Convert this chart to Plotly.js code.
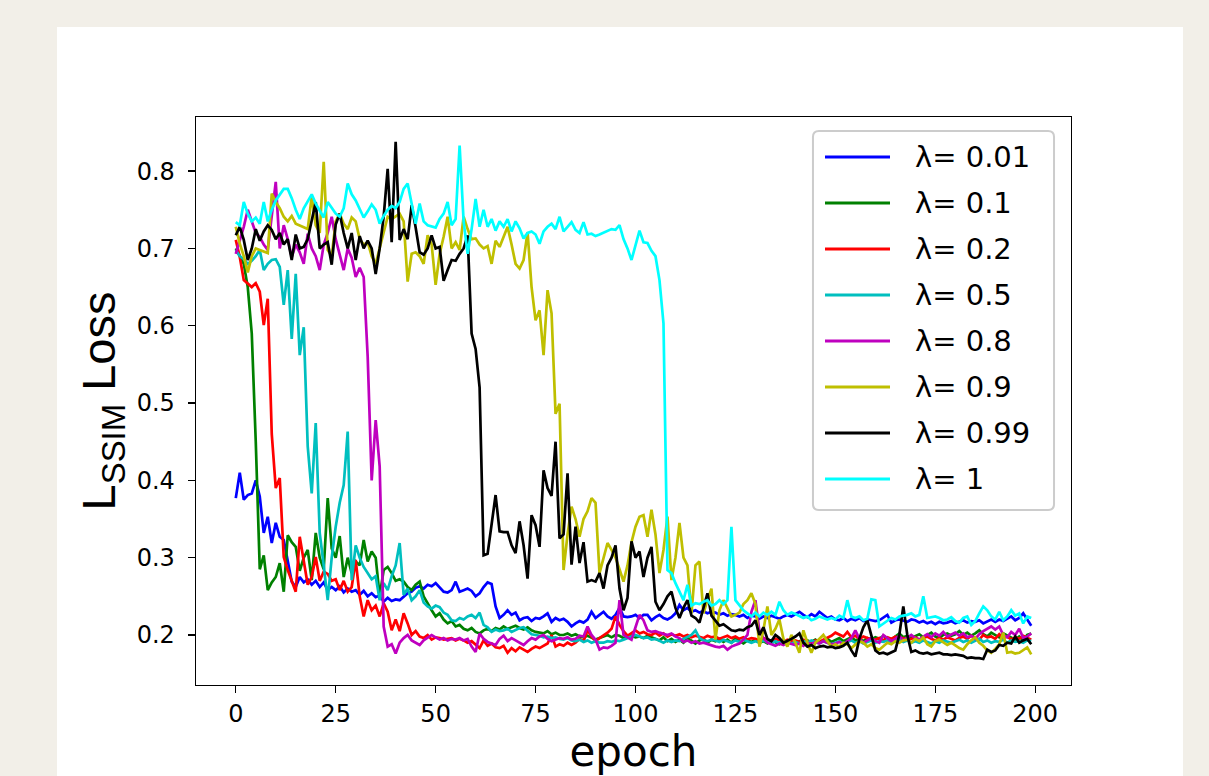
<!DOCTYPE html>
<html><head><meta charset="utf-8">
<script src="https://cdn.plot.ly/plotly-3.0.1.min.js"></script>
<style>
html,body{margin:0;padding:0;background:#f2efe8;width:1209px;height:776px;overflow:hidden;}
#card{position:absolute;left:57px;top:27px;width:1126px;height:749px;background:#ffffff;}
#chart{width:1126px;height:749px;}
</style></head><body><div id="card"><div id="chart"></div></div>
<script>
const labels = ["λ= 0.01","λ= 0.1","λ= 0.2","λ= 0.5","λ= 0.8","λ= 0.9","λ= 0.99","λ= 1"];
const colors = ["#0000ff","#008000","#ff0000","#00bfbf","#bf00bf","#bfbf00","#000000","#00ffff"];
const xTicks = [0,25,50,75,100,125,150,175,200];
const yTicks = [0.2,0.3,0.4,0.5,0.6,0.7,0.8];

const lam001 = [
.377,.410,.375,.381,.383,.400,.379,.332,.353,.319,
.345,.327,.323,.297,.269,.262,.275,.268,.272,.265,
.270,.262,.268,.258,.262,.258,.263,.255,.260,.256,
.258,.252,.257,.250,.254,.249,.251,.243,.248,.244,
.246,.245,.250,.254,.256,.261,.263,.260,.265,.263,
.267,.262,.256,.255,.258,.269,.256,.258,.260,.257,
.250,.254,.262,.268,.266,.237,.222,.226,.232,.226,
.229,.219,.222,.223,.218,.222,.221,.224,.228,.217,
.222,.219,.221,.217,.211,.215,.218,.216,.220,.230,
.222,.226,.230,.224,.221,.226,.235,.224,.223,.224,
.226,.222,.226,.226,.219,.223,.226,.222,.220,.223,
.228,.239,.232,.235,.230,.232,.229,.231,.228,.230,
.229,.226,.228,.225,.227,.226,.224,.226,.222,.225,
.224,.221,.224,.222,.225,.223,.221,.224,.226,.224,
.227,.230,.226,.223,.227,.224,.230,.226,.222,.224,
.220,.219,.222,.218,.221,.219,.222,.218,.220,.219,
.218,.219,.222,.226,.216,.219,.220,.218,.217,.220,
.219,.216,.218,.215,.217,.214,.217,.215,.216,.218,
.215,.217,.219,.216,.218,.217,.219,.215,.218,.220,
.217,.220,.218,.221,.224,.219,.222,.228,.220,.212];

const lam01 = [
.700,.690,.680,.650,.590,.450,.285,.303,.258,.268,
.275,.293,.256,.329,.320,.314,.283,.300,.310,.271,
.332,.300,.285,.377,.312,.300,.328,.275,.300,.280,
.295,.290,.323,.295,.308,.300,.250,.284,.288,.280,
.270,.272,.269,.262,.258,.265,.269,.250,.240,.232,
.224,.228,.220,.215,.218,.211,.213,.208,.206,.209,
.204,.202,.206,.208,.205,.209,.207,.211,.208,.210,
.212,.209,.207,.210,.206,.204,.203,.202,.205,.201,
.203,.200,.200,.202,.199,.201,.198,.197,.199,.196,
.194,.196,.198,.200,.197,.200,.199,.196,.198,.199,
.197,.198,.196,.199,.197,.195,.193,.197,.192,.195,
.191,.194,.190,.196,.192,.189,.193,.195,.190,.194,
.192,.195,.191,.194,.190,.196,.192,.189,.193,.191,
.194,.190,.192,.189,.193,.191,.188,.192,.190,.193,
.189,.192,.190,.193,.191,.194,.190,.192,.195,.191,
.193,.196,.192,.194,.197,.193,.195,.192,.196,.194,
.197,.195,.199,.196,.194,.198,.202,.197,.199,.196,
.198,.201,.197,.200,.203,.198,.196,.200,.202,.199,
.201,.205,.200,.203,.199,.202,.206,.201,.198,.203,
.200,.197,.202,.199,.196,.194,.198,.193,.200,.202];

const lam02 = [
.711,.689,.659,.654,.650,.655,.644,.601,.635,.460,
.390,.403,.301,.284,.270,.256,.327,.298,.265,.275,
.301,.270,.282,.279,.270,.272,.258,.270,.256,.262,
.297,.250,.224,.245,.232,.238,.224,.241,.230,.206,
.220,.205,.228,.215,.200,.205,.198,.196,.200,.194,
.197,.196,.194,.195,.196,.193,.195,.193,.190,.192,
.188,.183,.193,.186,.189,.184,.183,.186,.177,.183,
.179,.184,.181,.178,.182,.185,.183,.186,.189,.200,
.185,.188,.186,.190,.187,.190,.195,.192,.206,.198,
.192,.196,.199,.203,.208,.224,.213,.205,.199,.203,
.206,.202,.204,.201,.200,.203,.199,.202,.198,.201,
.199,.201,.198,.200,.197,.199,.198,.196,.199,.197,
.198,.195,.197,.199,.196,.198,.195,.197,.194,.196,
.195,.193,.196,.194,.192,.195,.193,.191,.194,.192,
.193,.191,.194,.192,.190,.193,.191,.194,.196,.199,
.203,.200,.198,.204,.197,.199,.195,.198,.196,.194,
.194,.196,.193,.197,.195,.198,.194,.196,.193,.195,
.197,.194,.196,.198,.195,.193,.196,.194,.197,.195,
.193,.196,.198,.195,.199,.196,.194,.200,.197,.198,
.195,.201,.196,.198,.194,.197,.195,.199,.196,.194];

const lam05 = [
.698,.690,.686,.680,.684,.690,.698,.672,.680,.685,
.686,.676,.627,.672,.583,.667,.562,.598,.444,.383,
.474,.332,.290,.245,.300,.340,.371,.394,.463,.271,
.316,.300,.288,.280,.272,.276,.245,.267,.258,.276,
.290,.319,.252,.260,.245,.250,.258,.242,.237,.234,
.238,.236,.229,.226,.219,.218,.222,.220,.224,.226,
.222,.229,.213,.210,.204,.207,.205,.206,.208,.204,
.207,.209,.210,.205,.201,.200,.199,.197,.198,.196,
.197,.195,.194,.196,.193,.192,.194,.191,.193,.190,
.192,.190,.190,.192,.191,.193,.192,.194,.196,.198,
.200,.198,.196,.197,.194,.195,.192,.190,.193,.191,
.193,.192,.195,.197,.200,.206,.196,.193,.192,.194,
.193,.191,.194,.192,.190,.193,.191,.194,.192,.190,
.192,.190,.193,.191,.189,.192,.190,.193,.191,.189,
.191,.189,.192,.190,.193,.191,.189,.192,.190,.188,
.190,.192,.189,.191,.193,.190,.192,.189,.191,.193,
.190,.192,.191,.193,.190,.192,.194,.191,.193,.190,
.192,.190,.193,.191,.189,.192,.190,.193,.191,.190,
.192,.194,.191,.193,.190,.192,.195,.191,.193,.190,
.192,.191,.194,.190,.193,.191,.192,.190,.193,.192];

const lam08 = [
.693,.710,.728,.750,.735,.720,.715,.705,.698,.740,
.786,.700,.730,.712,.689,.705,.695,.680,.719,.700,
.690,.672,.705,.720,.741,.712,.690,.672,.700,.688,
.663,.675,.663,.560,.400,.478,.418,.211,.185,.188,
.176,.190,.196,.200,.193,.190,.187,.193,.196,.200,
.197,.194,.196,.193,.195,.194,.196,.193,.195,.185,
.178,.202,.195,.191,.189,.187,.195,.199,.192,.196,
.193,.190,.187,.192,.196,.194,.198,.200,.195,.192,
.194,.196,.195,.197,.194,.195,.199,.198,.211,.200,
.194,.181,.184,.183,.186,.190,.245,.200,.197,.194,
.210,.226,.219,.206,.204,.205,.203,.201,.200,.202,
.198,.196,.191,.193,.190,.192,.189,.190,.188,.187,
.185,.184,.186,.181,.185,.187,.189,.194,.200,.230,
.245,.205,.196,.190,.188,.186,.189,.187,.190,.188,
.187,.189,.186,.190,.188,.191,.189,.192,.190,.188,
.189,.191,.188,.192,.196,.206,.195,.190,.193,.196,
.192,.190,.200,.196,.192,.195,.199,.193,.197,.200,
.196,.194,.198,.201,.197,.202,.199,.204,.198,.201,
.203,.199,.202,.197,.199,.195,.201,.205,.208,.211,
.207,.211,.200,.197,.204,.200,.208,.196,.198,.202];

const lam09 = [
.728,.706,.690,.669,.690,.700,.698,.696,.694,.771,
.760,.752,.741,.735,.742,.732,.730,.728,.725,.767,
.730,.720,.812,.698,.690,.735,.745,.732,.725,.740,
.735,.712,.705,.708,.690,.680,.700,.720,.741,.738,
.741,.745,.735,.657,.693,.695,.690,.680,.717,.705,
.653,.693,.715,.741,.700,.708,.698,.741,.725,.712,
.713,.705,.700,.703,.680,.710,.702,.715,.728,.705,
.680,.674,.685,.721,.650,.607,.620,.562,.646,.616,
.486,.499,.284,.330,.366,.350,.327,.350,.360,.377,
.371,.280,.300,.319,.310,.300,.285,.269,.290,.320,
.340,.353,.355,.327,.362,.330,.280,.310,.353,.271,
.300,.345,.300,.290,.228,.290,.295,.228,.245,.260,
.194,.232,.245,.235,.224,.226,.229,.240,.245,.254,
.240,.185,.206,.237,.200,.208,.220,.195,.185,.200,
.190,.177,.206,.190,.177,.190,.195,.200,.192,.185,
.188,.185,.190,.188,.183,.187,.192,.190,.185,.188,
.183,.181,.186,.190,.188,.192,.190,.193,.194,.190,
.195,.192,.197,.188,.185,.192,.194,.190,.187,.190,
.186,.183,.181,.188,.193,.197,.190,.186,.180,.177,
.182,.188,.203,.177,.178,.176,.177,.180,.184,.175];

const lam099 = [
.717,.728,.711,.685,.700,.725,.710,.722,.730,.724,
.712,.720,.705,.712,.685,.718,.700,.702,.712,.735,
.760,.700,.705,.708,.679,.731,.745,.720,.700,.720,
.685,.716,.700,.710,.700,.667,.700,.741,.803,.708,
.838,.711,.725,.712,.756,.727,.695,.692,.700,.717,
.700,.702,.658,.672,.685,.684,.693,.700,.717,.590,
.570,.520,.303,.305,.340,.381,.334,.333,.333,.316,
.306,.347,.316,.273,.355,.342,.314,.413,.390,.380,
.450,.325,.330,.409,.291,.340,.293,.320,.269,.271,
.269,.280,.260,.290,.300,.316,.260,.232,.248,.321,
.300,.308,.275,.300,.314,.243,.232,.240,.250,.256,
.235,.222,.235,.245,.225,.222,.216,.235,.254,.225,
.218,.212,.214,.210,.206,.205,.207,.206,.210,.212,
.219,.200,.210,.195,.192,.200,.196,.190,.192,.195,
.198,.202,.190,.185,.187,.183,.185,.186,.184,.185,
.183,.184,.186,.190,.180,.172,.195,.210,.219,.200,
.180,.176,.177,.175,.178,.180,.200,.237,.200,.178,
.180,.177,.176,.177,.175,.176,.177,.175,.175,.174,
.175,.174,.173,.170,.171,.170,.170,.169,.181,.178,
.180,.187,.186,.190,.189,.198,.190,.193,.195,.188];

const lam1 = [
.734,.730,.760,.745,.735,.740,.732,.760,.735,.750,
.762,.770,.777,.777,.765,.750,.738,.752,.762,.770,
.758,.748,.740,.760,.752,.745,.741,.752,.784,.770,
.762,.752,.740,.748,.757,.750,.732,.742,.750,.755,
.752,.760,.777,.784,.760,.732,.758,.735,.730,.728,
.727,.738,.745,.760,.730,.738,.833,.735,.693,.725,
.764,.728,.750,.728,.738,.723,.735,.728,.738,.722,
.735,.726,.713,.720,.722,.718,.706,.722,.728,.732,
.725,.741,.722,.728,.734,.724,.720,.734,.718,.719,
.716,.718,.720,.722,.725,.724,.730,.712,.700,.685,
.705,.723,.708,.707,.697,.690,.659,.603,.284,.280,
.267,.255,.245,.265,.238,.241,.240,.243,.245,.238,
.240,.245,.240,.245,.340,.245,.238,.232,.228,.224,
.229,.224,.229,.226,.230,.226,.243,.232,.226,.229,
.227,.225,.222,.224,.219,.221,.224,.222,.220,.222,
.220,.225,.222,.245,.224,.222,.224,.219,.221,.246,
.245,.211,.215,.218,.222,.220,.224,.225,.226,.228,
.224,.226,.250,.222,.223,.224,.222,.219,.220,.223,
.218,.216,.222,.224,.213,.218,.228,.237,.232,.224,
.220,.230,.219,.224,.232,.225,.228,.215,.224,.222];

const series = [lam001, lam01, lam02, lam05, lam08, lam09, lam099, lam1];
const epochs = lam001.map((_, i) => i);

const FONT = "'DejaVu Sans', 'Liberation Sans', Arial, sans-serif";
const TFONT = "'Liberation Sans', Arial, Helvetica, sans-serif";

const traces = series.map((ys, k) => ({
  type: 'scatter', mode: 'lines', x: epochs, y: ys,
  name: labels[k], showlegend: false,
  line: {color: colors[k], width: 2.7}
}));

// legend box geometry (plot-area fractions)
const PW = 875, PH = 568;           // plot area size in px
const lx0 = 0.7051, lx1 = 0.9806, ly1 = 0.9754, ly0 = 0.3081;
const rx = 6 / PW, ry = 6 / PH;
const boxPath = `M${lx0+rx},${ly1} L${lx1-rx},${ly1} Q${lx1},${ly1} ${lx1},${ly1-ry} ` +
  `L${lx1},${ly0+ry} Q${lx1},${ly0} ${lx1-rx},${ly0} L${lx0+rx},${ly0} ` +
  `Q${lx0},${ly0} ${lx0},${ly0+ry} L${lx0},${ly1-ry} Q${lx0},${ly1} ${lx0+rx},${ly1} Z`;

const shapes = [{
  type: 'path', xref: 'paper', yref: 'paper', path: boxPath,
  fillcolor: 'rgba(255,255,255,0.85)', line: {color: '#cccccc', width: 2}, layer: 'above'
}];
const annotations = [];
labels.forEach((lab, k) => {
  const yc = (528 - 46 * k) / PH;    // row centre
  shapes.push({
    type: 'line', xref: 'paper', yref: 'paper',
    x0: (825 - 196) / PW, x1: (890 - 196) / PW, y0: yc, y1: yc,
    line: {color: colors[k], width: 3}, layer: 'above'
  });
  annotations.push({
    xref: 'paper', yref: 'paper', x: (913 - 196) / PW, y: yc,
    xanchor: 'left', yanchor: 'middle', showarrow: false, text: lab,
    font: {family: FONT, size: 29, color: '#000'}
  });
});

const layout = {
  width: 1126, height: 749,
  margin: {l: 139, r: 112, t: 90, b: 91},
  paper_bgcolor: '#ffffff', plot_bgcolor: '#ffffff',
  font: {family: FONT, color: '#000000'},
  showlegend: false,
  shapes: shapes,
  annotations: annotations,
  xaxis: {
    range: [-9.95, 208.95], tickvals: xTicks, ticktext: xTicks.map(String),
    ticks: 'outside', ticklen: 7, tickwidth: 1.3, tickcolor: '#000',
    showline: true, mirror: true, linecolor: '#000', linewidth: 1.3,
    showgrid: false, zeroline: false,
    tickfont: {family: FONT, size: 24, color: '#000'},
    title: {text: 'epoch', font: {family: FONT, size: 42, color: '#000'}, standoff: 25}
  },
  yaxis: {
    range: [0.1353, 0.870], tickvals: yTicks, ticktext: yTicks.map(v => v.toFixed(1)),
    ticks: 'outside', ticklen: 7, tickwidth: 1.3, tickcolor: '#000',
    showline: true, mirror: true, linecolor: '#000', linewidth: 1.3,
    showgrid: false, zeroline: false, ticklabelstandoff: 8,
    tickfont: {family: FONT, size: 24, color: '#000'},
    title: {text: 'L<sub>SSIM</sub> Loss', font: {family: TFONT, size: 47, color: '#000'}, standoff: 6}
  }
};

Plotly.newPlot('chart', traces, layout, {displayModeBar: false, staticPlot: true});
</script></body></html>
